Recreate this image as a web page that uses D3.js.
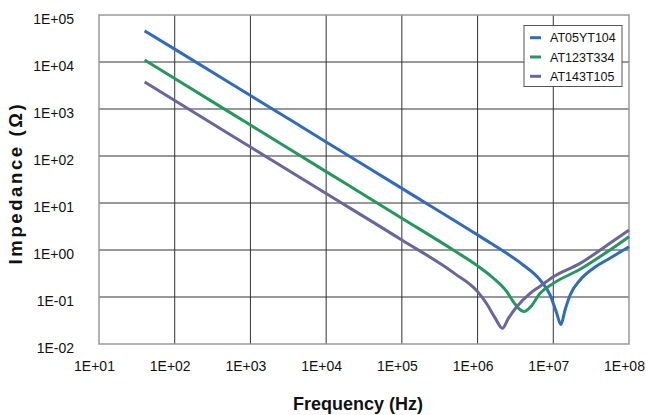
<!DOCTYPE html>
<html>
<head>
<meta charset="utf-8">
<script src="https://cdn.jsdelivr.net/npm/d3@7"></script>
<style>
  body { margin: 0; background: #fff; }
  svg text { font-family: "Liberation Sans", Arial, sans-serif; fill: #111; }
</style>
</head>
<body>
<svg id="chart"></svg>
<script>
const width = 646;
const height = 415;

// Series names and colours
const seriesNames = ["AT05YT104", "AT123T334", "AT143T105"];
const seriesColors = ["#2f6cbf", "#23985d", "#6a64a1"];

// [frequency Hz, impedance Ohm]
const at05yt104 = [
    [40, 4.6e4], [100, 1.88e4], [1e3, 1.94e3], [1e4, 199], [1e5, 20.5],
    [1e6, 2.1], [1.5e6, 1.39], [2.2e6, 0.94], [4e6, 0.48], [6.7e6, 0.23], [9.1e6, 0.11],
    [1.11e7, 0.045], [1.26e7, 0.026], [1.43e7, 0.053], [1.67e7, 0.11],
    [2.26e7, 0.23], [3.39e7, 0.41], [5.6e7, 0.67], [1e8, 1.17]
];
const at123t334 = [
    [40, 1.1e4], [100, 4.46e3], [1e3, 455], [1e4, 46.5], [1e5, 4.74],
    [5e5, 0.955], [1e6, 0.46], [1.58e6, 0.26], [2.43e6, 0.13], [2.97e6, 0.079], [3.46e6, 0.058],
    [4.15e6, 0.049], [4.94e6, 0.06], [6.7e6, 0.12], [1e7, 0.195],
    [2.26e7, 0.39], [5.6e7, 1.0], [1e8, 1.92]
];
const at143t105 = [
    [40, 3.75e3], [100, 1.51e3], [1e3, 155], [1e4, 15.9], [1e5, 1.63],
    [5.0e5, 0.315], [1e6, 0.13], [1.32e6, 0.072], [1.7e6, 0.036], [2.13e6, 0.0216],
    [2.55e6, 0.035], [3.29e6, 0.062], [4.94e6, 0.12], [6.7e6, 0.17],
    [1e7, 0.27], [2.26e7, 0.52], [5.6e7, 1.39], [1e8, 2.67]
];
const seriesData = [at05yt104, at123t334, at143t105];

// Axis ticks
const xTicks = [1e1, 1e2, 1e3, 1e4, 1e5, 1e6, 1e7, 1e8];
const xTickLabels = ["1E+01", "1E+02", "1E+03", "1E+04", "1E+05", "1E+06", "1E+07", "1E+08"];
const yTicks = [1e-2, 1e-1, 1e0, 1e1, 1e2, 1e3, 1e4, 1e5];
const yTickLabels = ["1E-02", "1E-01", "1E+00", "1E+01", "1E+02", "1E+03", "1E+04", "1E+05"];

const svg = d3.select("#chart")
    .attr("width", width)
    .attr("height", height);

const plot = { left: 99, top: 15, right: 629, bottom: 344 };

const x = d3.scaleLog().domain([1e1, 1e8]).range([plot.left, plot.right]);
const y = d3.scaleLog().domain([1e-2, 1e5]).range([plot.bottom, plot.top]);

// grid
const grid = svg.append("g").attr("class", "grid");
grid.selectAll("line.v")
    .data(xTicks.slice(1, -1))
    .enter().append("line")
    .attr("x1", d => x(d)).attr("x2", d => x(d))
    .attr("y1", plot.top).attr("y2", plot.bottom)
    .attr("stroke", "#333").attr("stroke-width", 1);
grid.selectAll("line.h")
    .data(yTicks.slice(1, -1))
    .enter().append("line")
    .attr("x1", plot.left).attr("x2", plot.right)
    .attr("y1", d => y(d)).attr("y2", d => y(d))
    .attr("stroke", "#333").attr("stroke-width", 1);

// plot frame
svg.append("rect")
    .attr("x", plot.left).attr("y", plot.top)
    .attr("width", plot.right - plot.left).attr("height", plot.bottom - plot.top)
    .attr("fill", "none").attr("stroke", "#999").attr("stroke-width", 1.5);

// tick labels
svg.append("g").selectAll("text")
    .data(yTicks)
    .enter().append("text")
    .attr("x", 74)
    .attr("y", d => y(d) + 8.5)
    .attr("text-anchor", "end")
    .attr("font-size", 14)
    .text((d, i) => yTickLabels[i]);

svg.append("g").selectAll("text")
    .data(xTicks)
    .enter().append("text")
    .attr("x", d => x(d) - 4.5)
    .attr("y", 371)
    .attr("text-anchor", "middle")
    .attr("font-size", 14)
    .text((d, i) => xTickLabels[i]);

// curves
const line = d3.line()
    .x(d => x(d[0]))
    .y(d => y(d[1]))
    .curve(d3.curveMonotoneX);

svg.append("g").selectAll("path")
    .data(seriesData)
    .enter().append("path")
    .attr("d", line)
    .attr("fill", "none")
    .attr("stroke", (d, i) => seriesColors[i])
    .attr("stroke-width", 3)
    .attr("stroke-linejoin", "round");

// axis titles
svg.append("text")
    .attr("x", 358).attr("y", 410)
    .attr("text-anchor", "middle")
    .attr("font-size", 18).attr("font-weight", "bold")
    .text("Frequency (Hz)");

svg.append("text")
    .attr("transform", "translate(22,183) rotate(-90)")
    .attr("text-anchor", "middle")
    .attr("font-size", 18.5).attr("font-weight", "bold")
    .attr("letter-spacing", 2.6)
    .text("Impedance (Ω)");

// legend
const legend = svg.append("g").attr("class", "legend");
legend.append("rect")
    .attr("x", 524).attr("y", 25.5)
    .attr("width", 98).attr("height", 61)
    .attr("fill", "#fff").attr("stroke", "#555").attr("stroke-width", 1);

const legendRows = legend.selectAll("g.row")
    .data(seriesNames)
    .enter().append("g")
    .attr("transform", (d, i) => `translate(0,${37.7 + i * 19.3})`);
legendRows.append("line")
    .attr("x1", 530).attr("x2", 541)
    .attr("stroke", (d, i) => seriesColors[i])
    .attr("stroke-width", 3);
legendRows.append("text")
    .attr("x", 550).attr("y", 4.5)
    .attr("font-size", 12.5)
    .text(d => d);
</script>
</body>
</html>
